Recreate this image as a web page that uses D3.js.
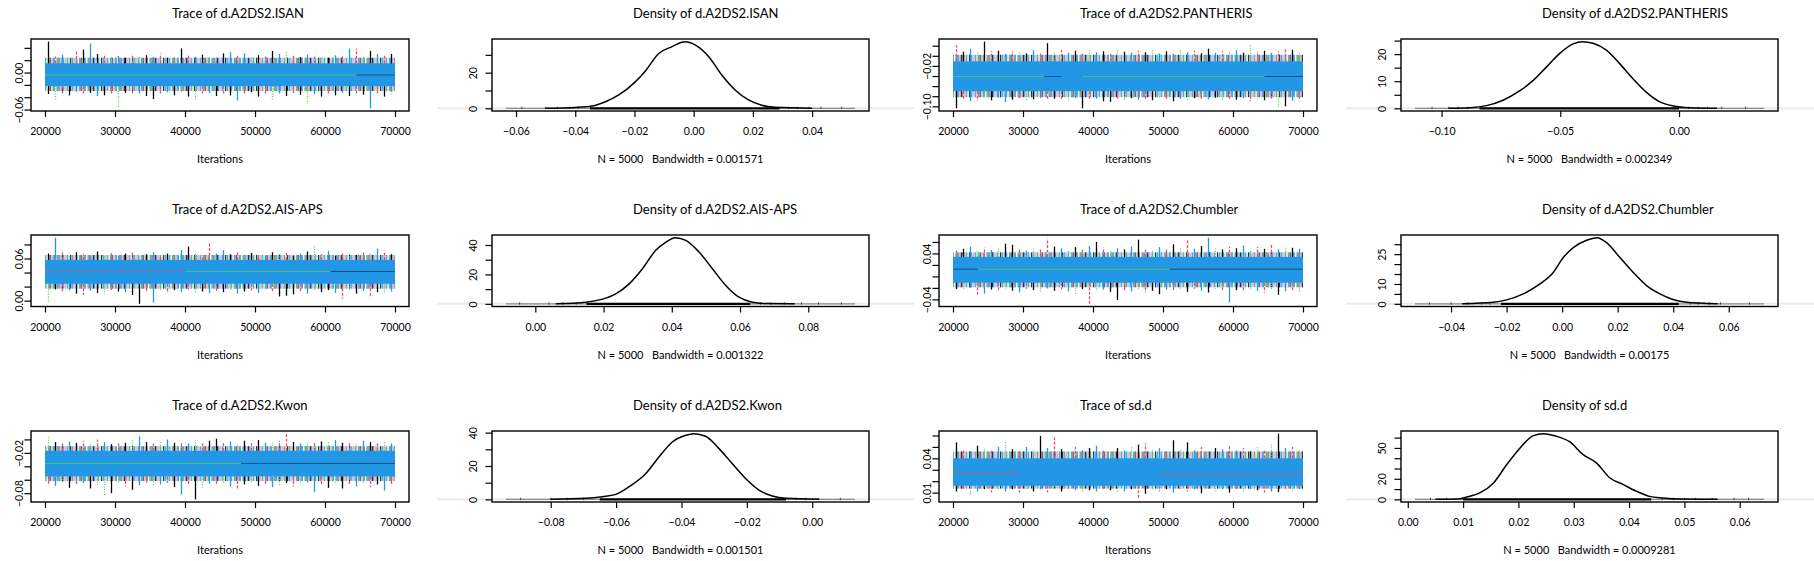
<!DOCTYPE html>
<html><head><meta charset="utf-8">
<script src="https://cdn.jsdelivr.net/npm/d3@7/dist/d3.min.js"></script>
<style>html,body{margin:0;padding:0;background:#fff;} svg{display:block;}</style>
</head><body>
<svg id="chart" width="1814" height="561"></svg>
<script>
// ---------------- DATA ----------------
const iterStart = 20000, iterEnd = 70000;
const traceXTicks = [20000, 30000, 40000, 50000, 60000, 70000];
// centres of 1000-iteration bins
const iterations = [20500,21500,22500,23500,24500,25500,26500,27500,28500,29500,
  30500,31500,32500,33500,34500,35500,36500,37500,38500,39500,
  40500,41500,42500,43500,44500,45500,46500,47500,48500,49500,
  50500,51500,52500,53500,54500,55500,56500,57500,58500,59500,
  60500,61500,62500,63500,64500,65500,66500,67500,68500,69500];

// ISAN
const isanHi = [0.050,0.026,0.029,0.024,0.034,0.037,0.047,0.030,0.028,0.025,
  0.027,0.024,0.030,0.026,0.028,0.025,0.031,0.024,0.027,0.039,
  0.028,0.025,0.029,0.026,0.024,0.031,0.033,0.027,0.031,0.025,
  0.028,0.026,0.035,0.030,0.033,0.027,0.025,0.029,0.026,0.027,
  0.024,0.028,0.026,0.039,0.039,0.027,0.035,0.030,0.028,0.030];
const isanLo = [-0.035,-0.044,-0.034,-0.037,-0.031,-0.036,-0.033,-0.038,-0.037,-0.034,
  -0.056,-0.033,-0.036,-0.034,-0.038,-0.043,-0.035,-0.032,-0.037,-0.034,
  -0.039,-0.046,-0.036,-0.033,-0.038,-0.034,-0.037,-0.045,-0.035,-0.032,
  -0.039,-0.036,-0.046,-0.034,-0.038,-0.033,-0.036,-0.051,-0.035,-0.039,
  -0.034,-0.037,-0.033,-0.038,-0.035,-0.036,-0.058,-0.037,-0.039,-0.035];
const isanHiChain = "krbgrkbkrg" + "bkrgkbrkgk" + "rbkgrkbrbg" + "krkbgrkbrg" + "kbrbrgkbrk";
const isanLoChain = "kgrkbrkbkr" + "gkrbkkrbkg" + "kgrbkrkbrk" + "krgbkrkgbk" + "rkbkrkbrkg";
const isanCore = [-0.022, 0.015];
const isanFringe = [-0.030, 0.024];
const isanMid = [[20000, 64500, "g", -0.004], [64500, 70000, "k", -0.004]];
const isanTraceTicks = [-0.06, -0.04, -0.02, 0, 0.02, 0.04];
const isanTraceLabels = [-0.06, 0];

// PANTHERIS
const panthHi = [0.021,0.008,0.014,0.006,0.028,0.009,0.010,0.004,0.009,0.007,
  0.005,0.011,0.006,0.025,0.008,0.012,0.006,0.010,0.004,0.011,
  0.007,0.009,0.005,0.012,0.008,0.006,0.010,0.007,0.013,0.005,
  0.009,0.006,0.011,0.007,0.010,0.005,0.014,0.006,0.009,0.007,
  0.011,0.006,0.021,0.008,0.010,0.006,0.009,0.016,0.012,0.008];
const panthLo = [-0.104,-0.086,-0.090,-0.089,-0.085,-0.088,-0.083,-0.092,-0.087,-0.084,
  -0.089,-0.086,-0.083,-0.088,-0.085,-0.087,-0.091,-0.084,-0.104,-0.087,
  -0.085,-0.090,-0.091,-0.086,-0.089,-0.084,-0.087,-0.085,-0.088,-0.083,
  -0.086,-0.090,-0.085,-0.087,-0.084,-0.088,-0.086,-0.083,-0.089,-0.085,
  -0.087,-0.084,-0.090,-0.086,-0.088,-0.085,-0.102,-0.100,-0.089,-0.086];
const panthHiChain = "rkbgkrkbrg" + "kbrkgrbkrg" + "bkrgkbrkgb" + "krgbrkkbrg" + "bkgrkbrrkg";
const panthLoChain = "krbrgkbbkr" + "gkbrkrgbkr" + "bkkrgkbrkg" + "rkbgkrbkgr" + "kbrgkrgkbr";
const panthCore = [-0.070, -0.011];
const panthFringe = [-0.082, 0.002];
const panthMid = [[20000, 33000, "g", -0.041], [33000, 35500, "k", -0.041], [38500, 64500, "g", -0.041], [64500, 70000, "k", -0.041]];
const panthTraceTicks = [-0.10, -0.08, -0.06, -0.04, -0.02, 0, 0.02];
const panthTraceLabels = [-0.10, -0.02];

// AIS-APS
const aisHi = [0.067,0.0897,0.071,0.064,0.069,0.066,0.063,0.070,0.065,0.068,
  0.064,0.067,0.070,0.063,0.066,0.069,0.064,0.067,0.065,0.072,
  0.077,0.069,0.065,0.083,0.067,0.072,0.066,0.070,0.064,0.068,
  0.065,0.063,0.069,0.066,0.068,0.064,0.067,0.070,0.077,0.066,
  0.071,0.064,0.067,0.069,0.065,0.070,0.068,0.074,0.071,0.066];
const aisLo = [-0.002,0.016,0.012,0.015,0.010,0.008,0.014,0.011,0.009,0.015,
  0.013,0.012,0.008,-0.0046,0.014,-0.003,0.013,0.011,0.015,0.012,
  0.016,0.010,0.013,0.011,0.014,0.012,0.015,0.010,0.013,0.014,
  0.011,0.016,0.012,0.006,0.007,0.009,0.013,0.010,0.014,0.012,
  0.015,0.011,0.003,0.013,0.010,0.014,0.004,0.012,0.010,0.013];
const aisHiChain = "kbrgkrbkgr" + "bkrgkbrkgb" + "kgrrbbkrgk" + "rbkgrkbkgr" + "bkrgkrgbrk";
const aisLoChain = "gkrbkrbkgr" + "kbkkrbgrkb" + "rgkbrkgbkr" + "bgrkkkrbgk" + "kbrgkbrkgb";
const aisCore = [0.024, 0.058];
const aisFringe = [0.017, 0.065];
const aisMid = [[20000, 40000, "r", 0.0415], [40000, 60800, "g", 0.0415], [60800, 70000, "k", 0.0415]];
const aisTraceTicks = [0, 0.02, 0.04, 0.06, 0.08];
const aisTraceLabels = [0, 0.06];

// Chumbler
const chumHi = [0.045,0.048,0.052,0.047,0.050,0.046,0.049,0.057,0.055,0.047,
  0.045,0.050,0.048,0.066,0.052,0.049,0.046,0.051,0.048,0.053,
  0.060,0.050,0.046,0.049,0.047,0.052,0.064,0.049,0.047,0.051,
  0.048,0.056,0.050,0.063,0.048,0.053,0.0675,0.050,0.047,0.052,
  0.049,0.054,0.046,0.051,0.048,0.055,0.047,0.052,0.050,0.048];
const chumLo = [-0.022,-0.024,-0.020,-0.033,-0.030,-0.023,-0.026,-0.021,-0.025,-0.028,
  -0.022,-0.024,-0.027,-0.021,-0.025,-0.023,-0.026,-0.030,-0.022,-0.0478,
  -0.025,-0.023,-0.027,-0.041,-0.024,-0.026,-0.022,-0.028,-0.025,-0.031,
  -0.023,-0.026,-0.024,-0.027,-0.022,-0.025,-0.028,-0.023,-0.026,-0.045,
  -0.024,-0.027,-0.022,-0.025,-0.028,-0.023,-0.032,-0.026,-0.024,-0.027];
const chumHiChain = "rkbgrbgkkr" + "bgrrkbgkrb" + "krgbkbkrgb" + "rkgrbkbgkr" + "kbgrkrbgkb";
const chumLoChain = "kgbrbkrgkb" + "rkgbkrbgkr" + "gbkkrbgrkk" + "brgkrbkgrb" + "krgbrgkbrg";
const chumCore = [-0.011, 0.034];
const chumFringe = [-0.019, 0.042];
const chumMid = [[20000, 23600, "k", 0.0125], [23600, 51000, "g", 0.0125], [51000, 70000, "k", 0.0125]];
const chumTraceTicks = [-0.04, -0.02, 0, 0.02, 0.04, 0.06];
const chumTraceLabels = [-0.04, 0.04];

// Kwon
const kwonHi = [0.006,-0.004,-0.006,-0.003,-0.005,-0.002,-0.006,0.000,-0.004,-0.007,
  -0.003,-0.005,-0.001,0.0046,-0.004,-0.006,-0.002,0.000,-0.005,-0.003,
  -0.006,-0.001,-0.004,-0.002,0.001,-0.005,-0.003,-0.006,-0.002,-0.004,
  -0.001,-0.005,-0.003,-0.002,0.0086,-0.004,-0.006,-0.002,-0.005,-0.003,
  -0.004,-0.001,-0.005,-0.003,-0.006,-0.002,-0.004,-0.005,-0.003,-0.006];
const kwonLo = [-0.066,-0.069,-0.064,-0.072,-0.067,-0.065,-0.073,-0.068,-0.085,-0.080,
  -0.066,-0.070,-0.075,-0.068,-0.064,-0.070,-0.067,-0.065,-0.071,-0.082,
  -0.068,-0.0892,-0.072,-0.066,-0.069,-0.065,-0.070,-0.074,-0.067,-0.064,
  -0.069,-0.066,-0.071,-0.068,-0.065,-0.070,-0.067,-0.064,-0.078,-0.069,
  -0.072,-0.066,-0.073,-0.068,-0.070,-0.065,-0.071,-0.067,-0.076,-0.069];
const kwonHiChain = "gkrbkrgrbk" + "rkgbkrgbkr" + "bgrkkrbgkr" + "kbgrrkbgrk" + "gbkrgbkrgb";
const kwonLoChain = "rbgkrbkggk" + "grkbrgbrkb" + "rkgbrgbrkg" + "krbgkrgbbr" + "kgkrbgrkbr";
const kwonCore = [-0.055, -0.017];
const kwonFringe = [-0.062, -0.010];
const kwonMid = [[20000, 48000, "g", -0.0358], [48000, 70000, "k", -0.0358]];
const kwonTraceTicks = [-0.08, -0.06, -0.04, -0.02, 0];
const kwonTraceLabels = [-0.08, -0.02];

// sd.d
const sddHi = [0.054,0.048,0.046,0.051,0.049,0.047,0.050,0.055,0.048,0.046,
  0.050,0.047,0.0596,0.049,0.0587,0.048,0.046,0.050,0.047,0.049,
  0.051,0.048,0.046,0.049,0.047,0.050,0.052,0.053,0.047,0.049,
  0.046,0.0558,0.048,0.054,0.047,0.050,0.046,0.049,0.048,0.051,
  0.047,0.049,0.046,0.050,0.048,0.052,0.0616,0.049,0.050,0.047];
const sddLo = [0.011,0.012,0.008,0.011,0.013,0.010,0.012,0.011,0.013,0.010,
  0.012,0.011,0.013,0.010,0.012,0.011,0.013,0.012,0.010,0.012,
  0.011,0.013,0.012,0.010,0.011,0.013,0.0041,0.009,0.012,0.011,
  0.013,0.010,0.012,0.011,0.013,0.0094,0.012,0.011,0.013,0.010,
  0.012,0.011,0.013,0.012,0.010,0.011,0.0105,0.012,0.011,0.013];
const sddHiChain = "krbkgrbgkr" + "bgkbrkgrbk" + "brgkbgkrgb" + "rkgkbrgkbr" + "brkgrgkbrg";
const sddLoChain = "krgbkrgbkr" + "gkbrgkrbgk" + "brkgbkrkgr" + "kbgrbkrgbk" + "rgbkrbkrgb";
const sddCore = [0.016, 0.040];
const sddFringe = [0.0135, 0.046];
const sddMid = [[20000, 29500, "r", 0.0272], [49500, 70000, "r", 0.0262]];
const sddTraceTicks = [0.01, 0.02, 0.03, 0.04, 0.05, 0.06];
const sddTraceLabels = [0.01, 0.04];

// Density curves (x values, density values)
const isanDensX = [-0.050,-0.0399,-0.0343,-0.0298,-0.0253,-0.0200,-0.0163,-0.0118,-0.0073,-0.0030,0.0006,0.0051,0.0095,0.0140,0.0185,0.0230,0.0275,0.040];
const isanDensY = [0.05,0.5,1.3,3.7,7.5,14.4,21.0,30.8,34.6,37.4,35.5,29.0,18.7,10.3,4.7,1.7,0.6,0.05];
const panthDensX = [-0.097,-0.0881,-0.0811,-0.0741,-0.0670,-0.0614,-0.0558,-0.0502,-0.0446,-0.0407,-0.0362,-0.0306,-0.0250,-0.0194,-0.0137,-0.0081,-0.0025,0.0045,0.016];
const panthDensY = [0.05,0.25,1.0,3.0,6.5,10.3,15.3,20.3,23.8,24.6,24.0,21.5,16.5,10.9,5.9,2.4,0.9,0.25,0.05];
const aisDensX = [0.006,0.0148,0.0197,0.0236,0.0275,0.0314,0.0353,0.0383,0.0410,0.0441,0.0480,0.0519,0.0558,0.0597,0.0636,0.0675,0.076];
const aisDensY = [0.05,1.1,3.2,6.8,13.6,23.9,36.4,42.0,45.0,43.2,35.2,23.9,12.5,4.5,1.1,0.2,0.02];
const chumDensX = [-0.036,-0.0248,-0.0200,-0.0140,-0.0080,-0.0032,0.0004,0.0040,0.0088,0.0126,0.0160,0.0208,0.0256,0.0304,0.0352,0.0399,0.0448,0.056];
const chumDensY = [0.05,0.8,2.0,5.0,10.0,15.8,23.3,28.3,32.0,33.3,30.8,23.3,15.8,9.2,5.0,2.2,0.8,0.05];
const kwonDensX = [-0.080,-0.0693,-0.0642,-0.0601,-0.0560,-0.0509,-0.0469,-0.0428,-0.0387,-0.0362,-0.0326,-0.0285,-0.0245,-0.0204,-0.0163,-0.0122,-0.0081,0.002];
const kwonDensY = [0.05,0.6,1.6,3.0,7.6,15.5,25.4,34.4,38.4,39.4,37.8,30.4,21.5,12.5,5.6,2.0,0.6,0.05];
const sddDensX = [0.005,0.0088,0.0107,0.0131,0.0155,0.0179,0.0203,0.0227,0.0245,0.0269,0.0293,0.0317,0.0341,0.0365,0.0389,0.0413,0.0437,0.0461,0.0492,0.056];
const sddDensY = [0.05,0.3,2.3,6.5,16.0,33.9,50.0,62.0,63.9,61.3,55.8,43.5,35.5,21.0,14.5,8.0,2.9,1.3,0.3,0.05];

// density x-range (kernel support), observation rug: dense span and sparse tail observations
const isanRange = [-0.0634, 0.0545], isanRug = [-0.035, 0.029], isanTail = [-0.058,-0.050,-0.046,-0.042,-0.039,0.032,0.035,0.039,0.043,0.050];
const panthRange = [-0.1112, 0.0358], panthRug = [-0.084, 0.000], panthTail = [-0.104,-0.097,-0.093,-0.089,0.004,0.008,0.012,0.018,0.028];
const aisRange = [-0.0086, 0.0937], aisRug = [0.015, 0.063], aisTail = [-0.0046,0.004,0.008,0.012,0.066,0.069,0.073,0.078,0.083,0.0897];
const chumRange = [-0.0530, 0.0727], chumRug = [-0.022, 0.042], chumTail = [-0.0478,-0.040,-0.034,-0.029,-0.026,0.046,0.049,0.053,0.057,0.0675];
const kwonRange = [-0.0937, 0.0131], kwonRug = [-0.065, -0.008], kwonTail = [-0.0892,-0.080,-0.075,-0.070,-0.005,-0.002,0.002,0.0086];
const sddRange = [0.0013, 0.0644], sddRug = [0.010, 0.044], sddTail = [0.0041,0.007,0.046,0.048,0.050,0.052,0.055,0.059,0.0616];

const isanDensXTicks = [-0.06,-0.04,-0.02,0,0.02,0.04];
const panthDensXTicks = [-0.10,-0.05,0];
const aisDensXTicks = [0,0.02,0.04,0.06,0.08];
const chumDensXTicks = [-0.04,-0.02,0,0.02,0.04,0.06];
const kwonDensXTicks = [-0.08,-0.06,-0.04,-0.02,0];
const sddDensXTicks = [0,0.01,0.02,0.03,0.04,0.05,0.06];
const isanDensYTicks = [0,10,20,30], isanDensYLabels = [0,20];
const panthDensYTicks = [0,5,10,15,20,25], panthDensYLabels = [0,10,20];
const aisDensYTicks = [0,10,20,30,40], aisDensYLabels = [0,20,40];
const chumDensYTicks = [0,5,10,15,20,25,30], chumDensYLabels = [0,10,25];
const kwonDensYTicks = [0,10,20,30,40], kwonDensYLabels = [0,20,40];
const sddDensYTicks = [0,10,20,30,40,50,60], sddDensYLabels = [0,20,50];

const bandwidths = ["0.001571","0.002349","0.001322","0.00175","0.001501","0.0009281"];
const sampleN = 5000;
const paramNames = ["d.A2DS2.ISAN","d.A2DS2.PANTHERIS","d.A2DS2.AIS-APS","d.A2DS2.Chumbler","d.A2DS2.Kwon","sd.d"];

// ---------------- LAYOUT / STYLE ----------------
const chainColors = {k:"#000000", r:"#DF536B", g:"#61D04F", b:"#2297E6"};
const chainDash = {k:null, r:"3,1.5", g:"1,1.5", b:null};
const chainOrder = {k:0, r:1, g:2, b:3};
const midOpacity = {k:0.45, r:0.7, g:0.7, b:0.7};
const FONT = "Lato, 'Liberation Sans', Arial, sans-serif";
const colsX = [[31,409],[492,869],[939,1317],[1401,1778]];
const rowsY = [[39,111],[235,306.5],[431,502]];

const tracePanels = [
  {hi:isanHi, lo:isanLo, hiC:isanHiChain, loC:isanLoChain, core:isanCore, fringe:isanFringe, mid:isanMid, ticks:isanTraceTicks, labels:isanTraceLabels},
  {hi:panthHi, lo:panthLo, hiC:panthHiChain, loC:panthLoChain, core:panthCore, fringe:panthFringe, mid:panthMid, ticks:panthTraceTicks, labels:panthTraceLabels},
  {hi:aisHi, lo:aisLo, hiC:aisHiChain, loC:aisLoChain, core:aisCore, fringe:aisFringe, mid:aisMid, ticks:aisTraceTicks, labels:aisTraceLabels},
  {hi:chumHi, lo:chumLo, hiC:chumHiChain, loC:chumLoChain, core:chumCore, fringe:chumFringe, mid:chumMid, ticks:chumTraceTicks, labels:chumTraceLabels},
  {hi:kwonHi, lo:kwonLo, hiC:kwonHiChain, loC:kwonLoChain, core:kwonCore, fringe:kwonFringe, mid:kwonMid, ticks:kwonTraceTicks, labels:kwonTraceLabels},
  {hi:sddHi, lo:sddLo, hiC:sddHiChain, loC:sddLoChain, core:sddCore, fringe:sddFringe, mid:sddMid, ticks:sddTraceTicks, labels:sddTraceLabels}
];
const densPanels = [
  {xs:isanDensX, ys:isanDensY, range:isanRange, rug:isanRug, tail:isanTail, xt:isanDensXTicks, yt:isanDensYTicks, yl:isanDensYLabels},
  {xs:panthDensX, ys:panthDensY, range:panthRange, rug:panthRug, tail:panthTail, xt:panthDensXTicks, yt:panthDensYTicks, yl:panthDensYLabels},
  {xs:aisDensX, ys:aisDensY, range:aisRange, rug:aisRug, tail:aisTail, xt:aisDensXTicks, yt:aisDensYTicks, yl:aisDensYLabels},
  {xs:chumDensX, ys:chumDensY, range:chumRange, rug:chumRug, tail:chumTail, xt:chumDensXTicks, yt:chumDensYTicks, yl:chumDensYLabels},
  {xs:kwonDensX, ys:kwonDensY, range:kwonRange, rug:kwonRug, tail:kwonTail, xt:kwonDensXTicks, yt:kwonDensYTicks, yl:kwonDensYLabels},
  {xs:sddDensX, ys:sddDensY, range:sddRange, rug:sddRug, tail:sddTail, xt:sddDensXTicks, yt:sddDensYTicks, yl:sddDensYLabels}
];

const svg = d3.select("#chart");
const defs = svg.append("defs");
// irregular multi-chain texture for the edge zone of the trace band
const pat = defs.append("pattern").attr("id","fringe").attr("patternUnits","userSpaceOnUse").attr("width",31).attr("height",10);
[[0,1,"k"],[1,1.5,"b"],[3.5,1,"r"],[5,1,"b"],[6.5,0.8,"g"],[8,1.2,"k"],[9.5,2,"b"],[12.5,1,"r"],[14,1,"b"],[15.5,0.8,"g"],
 [17,1,"b"],[18.5,1.2,"k"],[20.5,1,"r"],[22,2,"b"],[25,0.8,"g"],[26.5,1,"k"],[28,1.5,"b"],[30,0.8,"r"]]
  .forEach(([px,w,c]) => pat.append("rect").attr("x",px).attr("y",0).attr("width",w).attr("height",10).attr("fill",chainColors[c]));

const pad = ([a,b]) => { const d = (b-a)*0.04; return [a-d, b+d]; };
const fmtMinus = s => s.replace("-", "\u2212");
const near = (a,b) => Math.abs(a-b) < 1e-9;

function styleAxis(g){
  g.select(".domain").remove();
  g.selectAll(".tick line").attr("stroke","#000").attr("stroke-width",1.2);
  g.selectAll(".tick text").attr("fill","#000").attr("font-family",FONT).attr("font-size",10.5);
}

function drawYAxis(g, L, y, ticks, labels, fmt, offset){
  const ya = g.append("g").attr("transform",`translate(${L},0)`)
    .call(d3.axisLeft(y).tickValues(ticks).tickSize(6.5).tickSizeOuter(0)
      .tickFormat(d => labels.some(l => near(l,d)) ? fmt(d) : ""));
  styleAxis(ya);
  ya.selectAll(".tick text").attr("transform","rotate(-90)").attr("x",0).attr("y",-offset)
    .attr("dy",0).attr("text-anchor","middle");
}
function drawXAxis(g, B, x, ticks, fmt){
  const xa = g.append("g").attr("transform",`translate(0,${B})`)
    .call(d3.axisBottom(x).tickValues(ticks).tickSize(6).tickSizeOuter(0).tickFormat(fmt));
  styleAxis(xa);
  xa.selectAll(".tick text").attr("y",17).attr("dy","0.71em");
}
function addText(g, x, y, txt, size, anchor){
  g.append("text").attr("x",x).attr("y",y).attr("text-anchor",anchor).attr("font-family",FONT)
   .attr("font-size",size).attr("fill","#000").text(txt);
}

function drawTrace(p, i){
  const col = (i % 2) * 2, row = Math.floor(i / 2);
  const [L,R] = colsX[col], [T,B] = rowsY[row];
  const x = d3.scaleLinear().domain(pad([iterStart, iterEnd])).range([L,R]);
  const y = d3.scaleLinear().domain(pad([d3.min(p.lo), d3.max(p.hi)])).range([B,T]);
  const g = svg.append("g");
  g.append("rect").attr("x",x(iterStart)).attr("width",x(iterEnd)-x(iterStart))
    .attr("y",y(p.fringe[1])).attr("height",y(p.fringe[0])-y(p.fringe[1])).attr("fill","url(#fringe)").attr("opacity",0.8);
  g.append("rect").attr("x",x(iterStart)).attr("width",x(iterEnd)-x(iterStart))
    .attr("y",y(p.core[1])).attr("height",y(p.core[0])-y(p.core[1])).attr("fill",chainColors.b);
  const spikes = [];
  iterations.forEach((it,j) => {
    spikes.push({it, from:p.core[1], to:p.hi[j], c:p.hiC[j]});
    spikes.push({it, from:p.core[0], to:p.lo[j], c:p.loC[j]});
  });
  spikes.sort((a,b) => chainOrder[a.c] - chainOrder[b.c]);
  g.selectAll("line.spike").data(spikes).join("line").attr("class","spike")
    .attr("x1",d=>x(d.it)).attr("x2",d=>x(d.it)).attr("y1",d=>y(d.from)).attr("y2",d=>y(d.to))
    .attr("stroke",d=>chainColors[d.c]).attr("stroke-width",1.3)
    .attr("stroke-dasharray",d=>chainDash[d.c]);
  g.selectAll("line.mid").data(p.mid).join("line").attr("class","mid")
    .attr("x1",d=>x(d[0])).attr("x2",d=>x(d[1])).attr("y1",d=>y(d[3])).attr("y2",d=>y(d[3]))
    .attr("stroke",d=>chainColors[d[2]]).attr("stroke-width",1).attr("opacity",d=>midOpacity[d[2]]);
  g.append("rect").attr("x",L).attr("y",T).attr("width",R-L).attr("height",B-T)
    .attr("fill","none").attr("stroke","#000").attr("stroke-width",1.4);
  drawXAxis(g, B, x, traceXTicks, d3.format("d"));
  drawYAxis(g, L, y, p.ticks, p.labels, d => fmtMinus(d3.format(".2f")(d)), 8);
  addText(g, L + 141, T - 21, "Trace of " + paramNames[i], 13, "start");
  addText(g, (L+R)/2, B + 52, "Iterations", 11, "middle");
}

function drawDensity(p, i){
  const col = (i % 2) * 2 + 1, row = Math.floor(i / 2);
  const [L,R] = colsX[col], [T,B] = rowsY[row];
  const x = d3.scaleLinear().domain(pad(p.range)).range([L,R]);
  const y = d3.scaleLinear().domain(pad([0, d3.max(p.ys)])).range([B,T]);
  const g = svg.append("g");
  const y0 = y(0);
  g.append("line").attr("x1",L-55).attr("x2",R+45).attr("y1",y0).attr("y2",y0)
    .attr("stroke","#ebebeb").attr("stroke-width",2);
  g.append("line").attr("x1",x(p.range[0])).attr("x2",x(p.range[1])).attr("y1",y0).attr("y2",y0)
    .attr("stroke","#8a8a8a").attr("stroke-width",1.3);
  g.selectAll("line.tail").data(p.tail).join("line").attr("class","tail")
    .attr("x1",d=>x(d)).attr("x2",d=>x(d)).attr("y1",y0+0.8).attr("y2",y0-1.6)
    .attr("stroke","#444").attr("stroke-width",1);
  g.append("line").attr("x1",x(p.rug[0])).attr("x2",x(p.rug[1])).attr("y1",y0).attr("y2",y0)
    .attr("stroke","#000").attr("stroke-width",2.2);
  const pts = p.xs.map((v,j) => [v, p.ys[j]]);
  g.append("path").datum(pts)
    .attr("d", d3.line().x(d=>x(d[0])).y(d=>y(d[1])).curve(d3.curveMonotoneX))
    .attr("fill","none").attr("stroke","#000").attr("stroke-width",1.5);
  g.append("rect").attr("x",L).attr("y",T).attr("width",R-L).attr("height",B-T)
    .attr("fill","none").attr("stroke","#000").attr("stroke-width",1.4);
  drawXAxis(g, B, x, p.xt, d => fmtMinus(d3.format(".2f")(d)));
  drawYAxis(g, L, y, p.yt, p.yl, d => String(d), 15);
  addText(g, L + 141, T - 21, "Density of " + paramNames[i], 13, "start");
  const sp = "\u00a0\u00a0\u00a0";
  addText(g, (L+R)/2, B + 52, `N = ${sampleN}${sp}Bandwidth = ${bandwidths[i]}`, 11, "middle");
}

tracePanels.forEach(drawTrace);
densPanels.forEach(drawDensity);
</script>
</body></html>
